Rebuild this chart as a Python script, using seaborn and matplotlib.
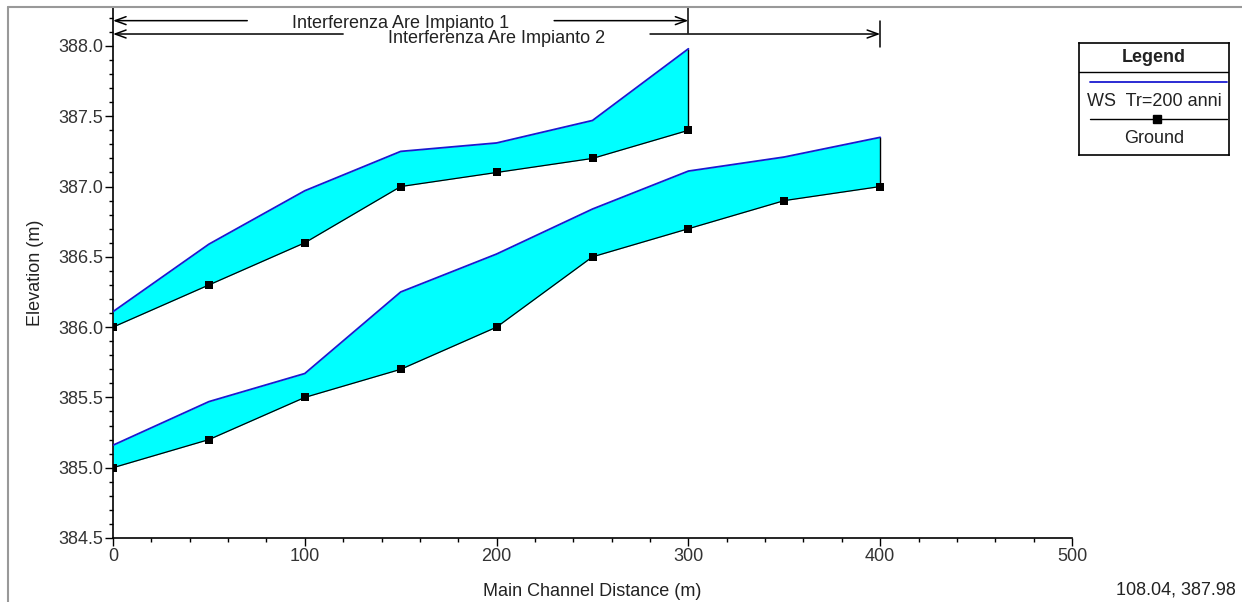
import numpy as np
import pandas as pd
import matplotlib
matplotlib.use("Agg")
import matplotlib.pyplot as plt
import seaborn as sns
from matplotlib.ticker import MultipleLocator, FormatStrFormatter
from matplotlib.lines import Line2D

# upper reach (Impianto 1)
dist_1 = [0, 50, 100, 150, 200, 250, 300]
ground_1 = [386.0, 386.3, 386.6, 387.0, 387.1, 387.2, 387.4]
ws_1 = [386.11, 386.59, 386.97, 387.25, 387.31, 387.47, 387.98]

# lower reach (Impianto 2)
dist_2 = [0, 50, 100, 150, 200, 250, 300, 350, 400]
ground_2 = [385.0, 385.2, 385.5, 385.7, 386.0, 386.5, 386.7, 386.9, 387.0]
ws_2 = [385.16, 385.47, 385.67, 386.25, 386.52, 386.84, 387.11, 387.21, 387.35]

reach_names = ["Interferenza Are Impianto 1", "Interferenza Are Impianto 2"]
reach_start = [0, 0]
reach_end = [300, 400]

cursor_text = "108.04, 387.98"

rows = []
for r, (d, g, w) in enumerate([(dist_1, ground_1, ws_1), (dist_2, ground_2, ws_2)]):
    for xi, gi, wi in zip(d, g, w):
        rows.append({"reach": r, "dist": xi, "series": "Ground", "elev": gi})
        rows.append({"reach": r, "dist": xi, "series": "WS", "elev": wi})
df = pd.DataFrame(rows)

sns.set_style("ticks")
plt.rcParams['font.family'] = ['Liberation Sans', 'DejaVu Sans']
plt.rcParams['font.size'] = 13

WS_BLUE = "#1a1ad0"
FILL = "#00ffff"
TXT = "#333333"

fig = plt.figure(figsize=(12.42, 6.02), dpi=100)
ax = fig.add_axes([113 / 1242, 1 - 538 / 602, (1072 - 113) / 1242, (538 - 8) / 602])

# water between ground and WS
for d, g, w in [(dist_1, ground_1, ws_1), (dist_2, ground_2, ws_2)]:
    ax.fill_between(d, g, w, color=FILL, lw=0, zorder=1)
    ax.vlines(d[-1], g[-1], w[-1], color="black", lw=1, zorder=2)

sns.lineplot(data=df[df.series == "WS"], x="dist", y="elev", units="reach",
             estimator=None, color=WS_BLUE, lw=1.3, ax=ax, legend=False, zorder=3)
sns.lineplot(data=df[df.series == "Ground"], x="dist", y="elev", units="reach",
             estimator=None, color="black", lw=0.9, marker="s", markersize=6,
             markeredgewidth=0, ax=ax, legend=False, zorder=4)

ax.set_xlim(0, 500)
ax.set_ylim(384.5, 388.27)
ax.xaxis.set_major_locator(MultipleLocator(100))
ax.xaxis.set_minor_locator(MultipleLocator(20))
ax.yaxis.set_major_locator(MultipleLocator(0.5))
ax.yaxis.set_minor_locator(MultipleLocator(0.1))
ax.yaxis.set_major_formatter(FormatStrFormatter("%.1f"))
ax.tick_params(which="major", length=6, width=1, colors="black", labelcolor=TXT, labelsize=13)
ax.tick_params(which="minor", length=3, width=1, colors="black")
ax.tick_params(axis="x", pad=1)
ax.tick_params(axis="y", pad=1)
for s in ["top", "right"]:
    ax.spines[s].set_visible(False)
for s in ["left", "bottom"]:
    ax.spines[s].set_color("black")
    ax.spines[s].set_linewidth(1.2)

ax.set_xlabel("Main Channel Distance (m)", color="#222222", fontsize=13, labelpad=13)
ax.set_ylabel("Elevation (m)", color="#222222", fontsize=13, labelpad=10)

# reach arrows above the plot
arrow_y = [388.18, 388.085]
text_drop = [0.02, 0.035]
gap = 80
for name, x0, x1, y, dy in zip(reach_names, reach_start, reach_end, arrow_y, text_drop):
    mid = (x0 + x1) / 2
    props = dict(arrowstyle="->,head_length=0.6,head_width=0.22", color="black", lw=1.1,
                 shrinkA=0, shrinkB=0)
    ax.annotate("", xy=(x0, y), xytext=(mid - gap, y), arrowprops=props, annotation_clip=False)
    ax.annotate("", xy=(x1, y), xytext=(mid + gap, y), arrowprops=props, annotation_clip=False)
    ax.plot([x1, x1], [y - 0.09, y + 0.09], color="black", lw=1.1, clip_on=False)
    ax.text(mid, y - dy, name, ha="center", va="center", fontsize=13, color="#222222")

# legend box
leg = fig.add_axes([1079 / 1242, 1 - 155 / 602, (1229 - 1079) / 1242, (155 - 43) / 602])
leg.set_xlim(0, 1)
leg.set_ylim(0, 1)
leg.set_xticks([])
leg.set_yticks([])
for s in leg.spines.values():
    s.set_color("black")
    s.set_linewidth(1.2)
leg.text(0.5, 0.875, "Legend", ha="center", va="center", fontsize=13, fontweight="bold", color="#222222")
leg.axhline(0.741, color="black", lw=1)
leg.plot([0.07, 0.985], [0.652, 0.652], color=WS_BLUE, lw=1.3)
leg.text(0.5, 0.48, "WS  Tr=200 anni", ha="center", va="center", fontsize=13, color="#222222")
leg.plot([0.07, 0.985], [0.321, 0.321], color="black", lw=1)
leg.plot([0.52], [0.321], marker="s", color="black", markersize=6)
leg.text(0.5, 0.15, "Ground", ha="center", va="center", fontsize=13, color="#222222")

# outer frame (left + top)
fig.add_artist(Line2D([8 / 1242, 8 / 1242], [0, 1 - 7 / 602], color="#999999", lw=1.5))
fig.add_artist(Line2D([8 / 1242, 1], [1 - 7 / 602, 1 - 7 / 602], color="#999999", lw=1.5))

fig.text(1236 / 1242, 1 - 590 / 602, cursor_text, ha="right", va="center", fontsize=13, color="#222222")

fig.savefig("out.png", dpi=100)
